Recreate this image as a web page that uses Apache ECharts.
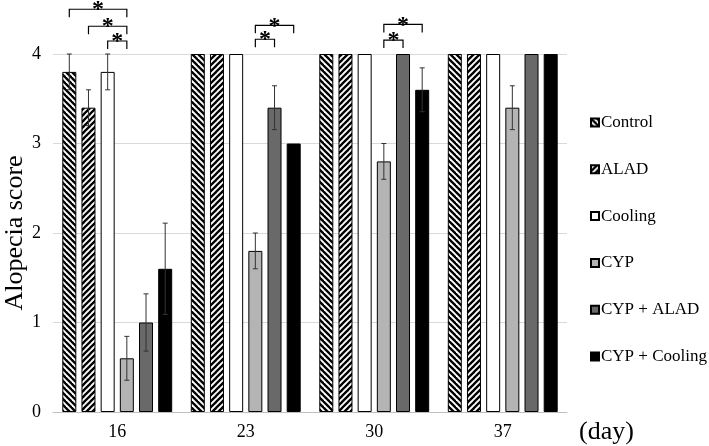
<!DOCTYPE html>
<html>
<head>
<meta charset="utf-8">
<script src="https://cdn.jsdelivr.net/npm/echarts@6/dist/echarts.min.js"></script>
<style>html,body{margin:0;padding:0;background:#fff}#c{width:709px;height:446px}</style>
</head>
<body>
<div id="c"></div>
<script>
const days = ['16', '23', '30', '37'];
const groupNames = ['Control', 'ALAD', 'Cooling', 'CYP', 'CYP + ALAD', 'CYP + Cooling'];
const controlVals = [3.8, 4, 4, 4];
const controlErr = [0.2, 0, 0, 0];
const aladVals = [3.4, 4, 4, 4];
const aladErr = [0.2, 0, 0, 0];
const coolingVals = [3.8, 4, 4, 4];
const coolingErr = [0.2, 0, 0, 0];
const cypVals = [0.6, 1.8, 2.8, 3.4];
const cypErr = [0.245, 0.2, 0.2, 0.245];
const cypAladVals = [1.0, 3.4, 4, 4];
const cypAladErr = [0.32, 0.245, 0, 0];
const cypCoolingVals = [1.6, 3.0, 3.6, 4];
const cypCoolingErr = [0.51, 0, 0.245, 0];
const yTicks = [0, 1, 2, 3, 4];
// significance brackets: [day index, bracket level, from group, to group]
const sigDay = [0, 0, 0, 1, 1, 2, 2];
const sigLevel = [4.5, 4.31, 4.145, 4.32, 4.165, 4.33, 4.156];
const sigFrom = [0, 1, 2, 3, 3, 3, 3];
const sigTo = [3, 3, 3, 5, 4, 5, 4];

const allVals = [controlVals, aladVals, coolingVals, cypVals, cypAladVals, cypCoolingVals];
const allErr = [controlErr, aladErr, coolingErr, cypErr, cypAladErr, cypCoolingErr];

const FONT = '"Liberation Serif", "Times New Roman", serif';
const BAR_W = 14;
const BAR_GAP = 0.37;
const STEP = BAR_W * (1 + BAR_GAP);
const NG = groupNames.length;

function stripes(dir) {
  const P = 6;
  const c = document.createElement('canvas');
  c.width = P; c.height = P;
  const g = c.getContext('2d');
  g.fillStyle = '#fff';
  g.fillRect(0, 0, P, P);
  g.strokeStyle = '#000';
  g.lineWidth = 2.3;
  for (let k = -2; k <= 2; k++) {
    g.beginPath();
    if (dir === 'back') {
      g.moveTo(-P, -P + k * P);
      g.lineTo(2 * P, 2 * P + k * P);
    } else {
      g.moveTo(-P, 2 * P + k * P);
      g.lineTo(2 * P, -P + k * P);
    }
    g.stroke();
  }
  return { image: c, repeat: 'repeat' };
}

const fills = [stripes('back'), stripes('fwd'), '#ffffff', '#b4b4b4', '#696969', '#000000'];

const barSeries = groupNames.map((n, i) => ({
  name: n,
  type: 'bar',
  data: allVals[i],
  barWidth: BAR_W,
  barGap: (BAR_GAP * 100) + '%',
  itemStyle: { color: fills[i], borderColor: '#000', borderWidth: 1 },
  emphasis: { disabled: true },
  z: 2
}));

const errData = [];
for (let g = 0; g < NG; g++) {
  for (let d = 0; d < days.length; d++) {
    if (allErr[g][d] > 0) errData.push([d, allVals[g][d], allErr[g][d], g]);
  }
}

const errSeries = {
  type: 'custom',
  data: errData,
  z: 5,
  silent: true,
  renderItem: function (params, api) {
    const d = api.value(0), v = api.value(1), e = api.value(2), g = api.value(3);
    const off = (g - (NG - 1) / 2) * STEP;
    const top = api.coord([d, v + e]);
    const bot = api.coord([d, v - e]);
    const x = top[0] + off;
    const cap = 2.5;
    const st = { stroke: '#333', lineWidth: 1 };
    return {
      type: 'group',
      children: [
        { type: 'line', shape: { x1: x, y1: top[1], x2: x, y2: bot[1] }, style: st },
        { type: 'line', shape: { x1: x - cap, y1: top[1], x2: x + cap, y2: top[1] }, style: st },
        { type: 'line', shape: { x1: x - cap, y1: bot[1], x2: x + cap, y2: bot[1] }, style: st }
      ]
    };
  }
};

const sigData = sigDay.map((d, i) => [d, sigLevel[i], sigFrom[i], sigTo[i]]);
const sigSeries = {
  type: 'custom',
  data: sigData,
  z: 6,
  silent: true,
  clip: false,
  renderItem: function (params, api) {
    const d = api.value(0), lvl = api.value(1), a = api.value(2), b = api.value(3);
    const p = api.coord([d, lvl]);
    const xa = p[0] + (a - (NG - 1) / 2) * STEP;
    const xb = p[0] + (b - (NG - 1) / 2) * STEP;
    const y = p[1];
    const tip = 8;
    return {
      type: 'group',
      children: [
        { type: 'polyline', shape: { points: [[xa, y + tip], [xa, y], [xb, y], [xb, y + tip]] },
          style: { stroke: '#000', lineWidth: 1.2, fill: null } },
        { type: 'text', x: (xa + xb) / 2, y: y + 1,
          style: { text: '*', font: 'bold 24px ' + FONT, fill: '#000', align: 'center', verticalAlign: 'middle' } }
      ]
    };
  }
};

const chart = echarts.init(document.getElementById('c'), null, { renderer: 'canvas' });
chart.setOption({
  animation: false,
  backgroundColor: '#fff',
  grid: { left: 53, right: 142, top: 54, bottom: 34, containLabel: false, outerBoundsMode: 'none' },
  xAxis: {
    type: 'category',
    data: days,
    axisLine: { lineStyle: { color: '#bfbfbf', width: 1 } },
    axisTick: { show: false },
    axisLabel: { color: '#000', fontFamily: FONT, fontSize: 18, margin: 11 }
  },
  yAxis: {
    type: 'value',
    min: yTicks[0],
    max: yTicks[yTicks.length - 1],
    interval: 1,
    name: 'Alopecia score',
    nameLocation: 'middle',
    nameGap: 25,
    nameRotate: 90,
    nameMoveOverlap: false,
    nameTextStyle: { color: '#000', fontFamily: FONT, fontSize: 26 },
    axisLine: { show: false },
    axisTick: { show: false },
    splitLine: { lineStyle: { color: '#d9d9d9', width: 1 } },
    axisLabel: { color: '#000', fontFamily: FONT, fontSize: 18, margin: 12 }
  },
  legend: {
    orient: 'vertical',
    left: 585,
    top: 109,
    icon: 'rect',
    itemWidth: 8,
    itemHeight: 8,
    itemGap: 29.8,
    selectedMode: false,
    data: groupNames,
    textStyle: { color: '#000', fontFamily: FONT, fontSize: 17, lineHeight: 16, padding: [0, 0, 0, -3] }
  },
  graphic: [
    { type: 'text', left: 579, top: 419,
      style: { text: '(day)', font: '26px ' + FONT, fill: '#000' } }
  ],
  series: barSeries.concat([errSeries, sigSeries])
});
</script>
</body>
</html>
